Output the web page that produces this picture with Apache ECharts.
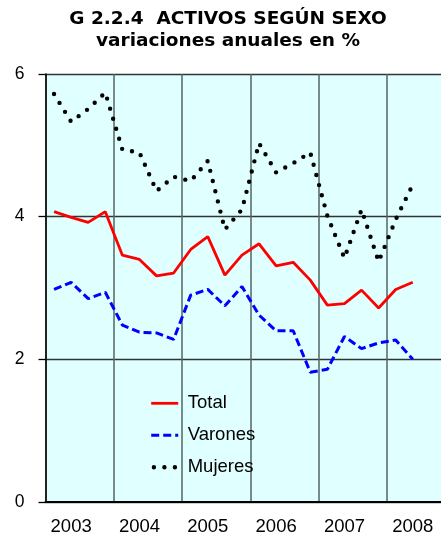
<!DOCTYPE html>
<html>
<head>
<meta charset="utf-8">
<script src="https://cdn.jsdelivr.net/npm/echarts@6/dist/echarts.min.js"></script>
<style>
  html, body { margin: 0; padding: 0; background: #fff; }
  #chart { width: 441px; height: 535px; }
</style>
</head>
<body>
<div id="chart"></div>
<script>
// quarterly series, 2003-I .. 2008-II
const years = ["2003", "2004", "2005", "2006", "2007", "2008"];
const quarterNames = ["I", "II", "III", "IV"];
const total = [4.07, 3.99, 3.92, 4.07, 3.46, 3.40, 3.17, 3.21, 3.54, 3.72, 3.18,
  3.46, 3.62, 3.31, 3.36, 3.11, 2.76, 2.78, 2.97, 2.72, 2.98, 3.08];
const varones = [2.98, 3.08, 2.85, 2.94, 2.48, 2.38, 2.37, 2.28, 2.90, 2.98, 2.75,
  3.02, 2.62, 2.40, 2.40, 1.82, 1.86, 2.32, 2.15, 2.23, 2.27, 2.00];
const mujeres = [5.72, 5.33, 5.51, 5.74, 4.94, 4.90, 4.36, 4.56, 4.50, 4.78, 3.82,
  4.10, 5.03, 4.62, 4.75, 4.90, 4.01, 3.42, 4.10, 3.37, 3.96, 4.45];

const quarters = [];
years.forEach(function (y) {
  quarterNames.forEach(function (q) { quarters.push(y + "-" + q); });
});

const font = "Liberation Sans";
const chart = echarts.init(document.getElementById("chart"));

const option = {
  animation: false,
  title: {
    text: "G 2.2.4  ACTIVOS SEGÚN SEXO\nvariaciones anuales en %",
    left: 223,
    top: 3.5,
    textAlign: "center",
    textStyle: {
      fontFamily: "DejaVu Sans",
      fontSize: 18.5,
      fontWeight: "bold",
      lineHeight: 21.5,
      color: "#000"
    }
  },
  legend: {
    orient: "vertical",
    left: 149,
    top: 393.8,
    padding: 0,
    itemWidth: 27,
    itemHeight: 14,
    itemGap: 13,
    itemStyle: { opacity: 0 },
    textStyle: {
      fontFamily: font,
      fontSize: 18.5,
      color: "#000",
      padding: [0, 0, 0, 4.5]
    },
    data: [
      { name: "Total", lineStyle: { width: 2.8 } },
      { name: "Varones", lineStyle: { width: 3 } },
      { name: "Mujeres", lineStyle: { width: 4.4, dashOffset: 7.8 } }
    ]
  },
  grid: {
    left: 45.5,
    top: 74,
    bottom: 33,
    width: 410,
    outerBoundsMode: "none",
    containLabel: false,
    show: true,
    backgroundColor: "#e0ffff",
    borderWidth: 0
  },
  xAxis: {
    type: "category",
    data: quarters,
    boundaryGap: true,
    axisLine: { lineStyle: { color: "#000", width: 2 } },
    axisTick: { show: false },
    axisLabel: {
      interval: function (i) { return i % 4 === 1; },
      formatter: function (v) { return v.slice(0, 4); },
      fontFamily: font,
      fontSize: 18.5,
      color: "#000",
      margin: 15
    },
    splitLine: {
      show: true,
      interval: function (i) { return i % 4 === 0; },
      lineStyle: { color: "#566464", width: 1.5 }
    }
  },
  yAxis: {
    type: "value",
    min: 0,
    max: 6,
    interval: 2,
    axisLine: { show: true, lineStyle: { color: "#000", width: 1.5 } },
    axisTick: { show: true, length: 7, lineStyle: { color: "#000", width: 1.3 } },
    axisLabel: {
      fontFamily: font,
      fontSize: 17.5,
      color: "#000",
      margin: 21
    },
    splitLine: { lineStyle: { color: "#333", width: 1.3 } }
  },
  series: [
    {
      name: "Total",
      type: "line",
      data: total,
      symbol: "none",
      lineStyle: { color: "#ff0000", width: 2.8 },
      itemStyle: { color: "#ff0000" }
    },
    {
      name: "Varones",
      type: "line",
      data: varones,
      symbol: "none",
      lineStyle: { color: "#0000ff", width: 3, type: [8, 4] },
      itemStyle: { color: "#0000ff" }
    },
    {
      name: "Mujeres",
      type: "line",
      data: mujeres,
      symbol: "none",
      lineStyle: { color: "#000", width: 4.4, type: [0, 10.5], cap: "round" },
      itemStyle: { color: "#000" }
    }
  ]
};

chart.setOption(option);
</script>
</body>
</html>
